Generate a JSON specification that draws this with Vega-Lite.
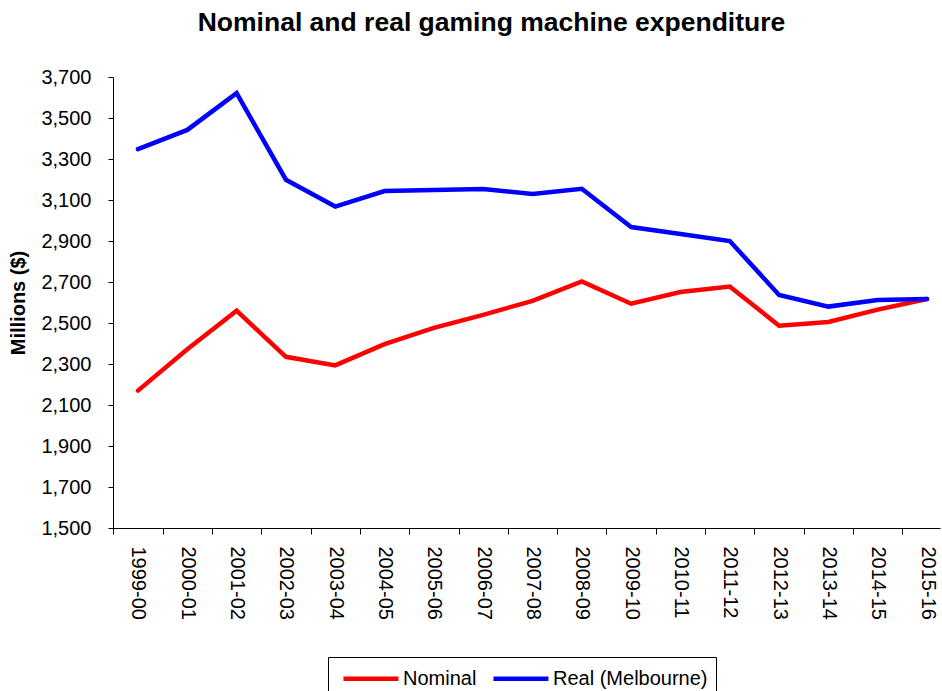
{
  "$schema": "https://vega.github.io/schema/vega-lite/v6.json",
  "width": 827,
  "height": 451,
  "autosize": {"type": "none"},
  "padding": {"left": 113, "top": 77, "right": 2, "bottom": 163},
  "background": "white",
  "config": {
    "view": {"stroke": null},
    "font": "Liberation Sans"
  },
  "title": {
    "text": "Nominal and real gaming machine expenditure",
    "fontSize": 26.5,
    "fontWeight": "bold",
    "font": "Liberation Sans",
    "color": "#000000",
    "anchor": "middle",
    "dx": -35,
    "offset": 31
  },
  "data": {
    "values": [
      {"year": "1999-00", "series": "Nominal", "value": 2170},
      {"year": "2000-01", "series": "Nominal", "value": 2372},
      {"year": "2001-02", "series": "Nominal", "value": 2560},
      {"year": "2002-03", "series": "Nominal", "value": 2335},
      {"year": "2003-04", "series": "Nominal", "value": 2293},
      {"year": "2004-05", "series": "Nominal", "value": 2397},
      {"year": "2005-06", "series": "Nominal", "value": 2476},
      {"year": "2006-07", "series": "Nominal", "value": 2540},
      {"year": "2007-08", "series": "Nominal", "value": 2608},
      {"year": "2008-09", "series": "Nominal", "value": 2703},
      {"year": "2009-10", "series": "Nominal", "value": 2594},
      {"year": "2010-11", "series": "Nominal", "value": 2651},
      {"year": "2011-12", "series": "Nominal", "value": 2678},
      {"year": "2012-13", "series": "Nominal", "value": 2487},
      {"year": "2013-14", "series": "Nominal", "value": 2505},
      {"year": "2014-15", "series": "Nominal", "value": 2565},
      {"year": "2015-16", "series": "Nominal", "value": 2617},
      {"year": "1999-00", "series": "Real (Melbourne)", "value": 3348},
      {"year": "2000-01", "series": "Real (Melbourne)", "value": 3442},
      {"year": "2001-02", "series": "Real (Melbourne)", "value": 3621},
      {"year": "2002-03", "series": "Real (Melbourne)", "value": 3199},
      {"year": "2003-04", "series": "Real (Melbourne)", "value": 3068},
      {"year": "2004-05", "series": "Real (Melbourne)", "value": 3144},
      {"year": "2005-06", "series": "Real (Melbourne)", "value": 3149},
      {"year": "2006-07", "series": "Real (Melbourne)", "value": 3154},
      {"year": "2007-08", "series": "Real (Melbourne)", "value": 3129},
      {"year": "2008-09", "series": "Real (Melbourne)", "value": 3155},
      {"year": "2009-10", "series": "Real (Melbourne)", "value": 2968},
      {"year": "2010-11", "series": "Real (Melbourne)", "value": 2934},
      {"year": "2011-12", "series": "Real (Melbourne)", "value": 2900},
      {"year": "2012-13", "series": "Real (Melbourne)", "value": 2637},
      {"year": "2013-14", "series": "Real (Melbourne)", "value": 2580},
      {"year": "2014-15", "series": "Real (Melbourne)", "value": 2612},
      {"year": "2015-16", "series": "Real (Melbourne)", "value": 2617}
    ]
  },
  "mark": {"type": "line", "strokeWidth": 4.5, "strokeCap": "round", "clip": false},
  "encoding": {
    "x": {
      "field": "year",
      "type": "ordinal",
      "scale": {"type": "point", "padding": 0.385, "align": 0.658},
      "axis": {
        "title": null,
        "labelAngle": 90,
        "labelFontSize": 20,
        "labelFont": "Liberation Sans",
        "labelColor": "#000000",
        "labelPadding": 12,
        "labelOverlap": false,
        "tickOffset": -24.65,
        "labelOffset": 24.65,
        "tickSize": 6,
        "tickColor": "#000000",
        "domainColor": "#000000",
        "domainWidth": 1,
        "grid": false
      }
    },
    "y": {
      "field": "value",
      "type": "quantitative",
      "scale": {"domain": [1500, 3700], "nice": false, "zero": false},
      "axis": {
        "title": "Millions ($)",
        "titleFontSize": 20,
        "titleFont": "Liberation Sans",
        "titleFontWeight": "bold",
        "titleColor": "#000000",
        "titlePadding": 12,
        "values": [1500, 1700, 1900, 2100, 2300, 2500, 2700, 2900, 3100, 3300, 3500, 3700],
        "format": ",d",
        "labelFontSize": 20,
        "labelFont": "Liberation Sans",
        "labelColor": "#000000",
        "labelPadding": 17,
        "tickSize": 5,
        "tickColor": "#000000",
        "domainColor": "#000000",
        "grid": false
      }
    },
    "color": {
      "field": "series",
      "type": "nominal",
      "scale": {"domain": ["Nominal", "Real (Melbourne)"], "range": ["#FF0000", "#0000FF"]},
      "legend": {
        "title": null,
        "orient": "none",
        "legendX": 215,
        "legendY": 580,
        "direction": "horizontal",
        "symbolType": "M-0.55,0H4.45",
        "symbolSize": 484,
        "symbolStrokeWidth": 4.5,
        "labelFontSize": 20,
        "labelFont": "Liberation Sans",
        "labelColor": "#000000",
        "labelOffset": 40,
        "labelLimit": 300,
        "columnPadding": 7,
        "padding": 8,
        "strokeColor": "#000000",
        "fillColor": "#FFFFFF"
      }
    }
  }
}
